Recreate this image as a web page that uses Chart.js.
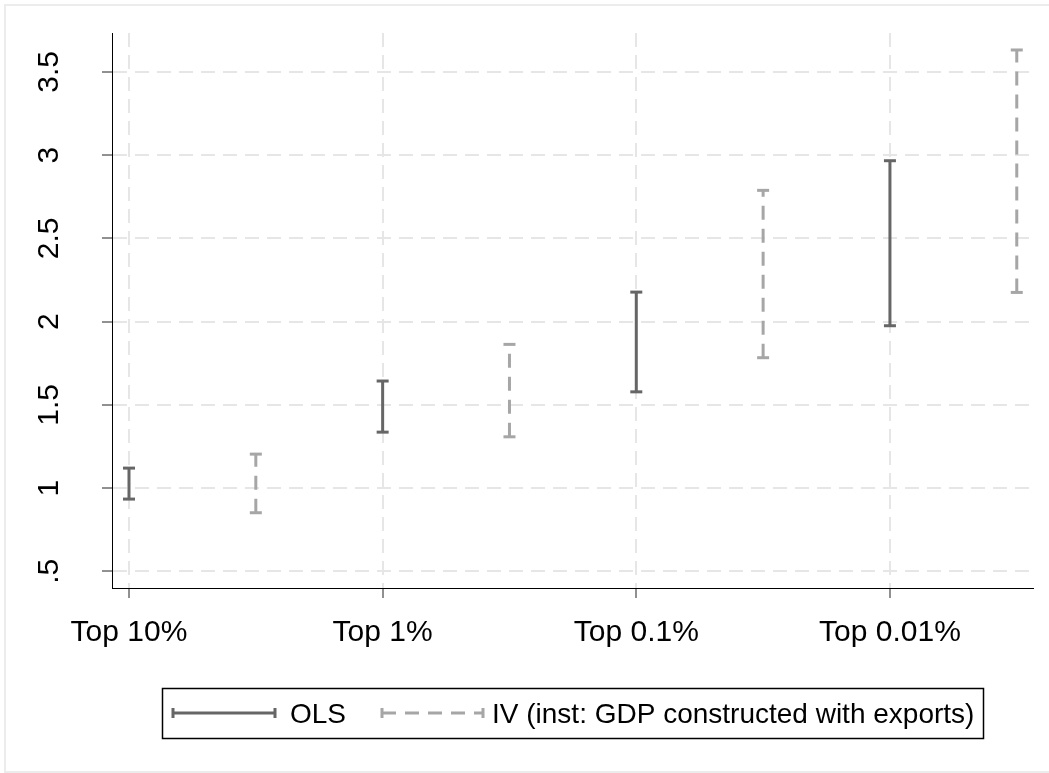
<!DOCTYPE html>
<html>
<head>
<meta charset="utf-8">
<script src="https://cdn.jsdelivr.net/npm/chart.js@4"></script>
<style>
  html, body { margin: 0; padding: 0; background: #fff; }
  canvas { display: block; }
</style>
</head>
<body>
<canvas id="chart" width="1049" height="773"></canvas>
<script>
const categories = ['Top 10%', 'Top 1%', 'Top 0.1%', 'Top 0.01%'];
const olsLow = [0.934, 1.336, 1.578, 1.975];
const olsHigh = [1.120, 1.643, 2.177, 2.966];
const ivLow = [0.852, 1.308, 1.783, 2.175];
const ivHigh = [1.204, 1.863, 2.788, 3.631];
const yTicks = [0.5, 1, 1.5, 2, 2.5, 3, 3.5];
const yTickLabels = ['.5', '1', '1.5', '2', '2.5', '3', '3.5'];
const seriesNames = ['OLS', 'IV (inst: GDP constructed with exports)'];

const FONT = '"Liberation Sans", Arial, sans-serif';
const olsColor = '#666666';
const ivColor = '#a6a6a6';
const gridColor = '#e6e6e6';

// each range becomes lo -> hi, then a null to break the line
function ranges(lo, hi, shift) {
  const pts = [];
  lo.forEach((v, i) => {
    const x = i + 1 + shift;
    pts.push({ x: x, y: v }, { x: x, y: hi[i] }, { x: x, y: null });
  });
  return pts;
}

function legendSymbol(ctx, x1, x2, y, color, dash) {
  ctx.save();
  ctx.strokeStyle = color;
  ctx.lineWidth = 3;
  ctx.setLineDash(dash);
  ctx.beginPath();
  ctx.moveTo(x1, y);
  ctx.lineTo(x2, y);
  ctx.stroke();
  ctx.setLineDash([]);
  ctx.beginPath();
  ctx.moveTo(x1, y - 5); ctx.lineTo(x1, y + 5);
  ctx.moveTo(x2, y - 5); ctx.lineTo(x2, y + 5);
  ctx.stroke();
  ctx.restore();
}

const extras = {
  id: 'extras',
  beforeDraw(chart) {
    const ctx = chart.ctx;
    ctx.save();
    ctx.fillStyle = '#fff';
    ctx.fillRect(0, 0, chart.width, chart.height);
    ctx.strokeStyle = '#ececec';
    ctx.lineWidth = 2;
    ctx.strokeRect(5, 5, chart.width + 10, chart.height - 6);
    ctx.restore();
  },
  afterDraw(chart) {
    const ctx = chart.ctx;
    const ys = chart.scales.y;
    ctx.save();
    ctx.fillStyle = '#000';
    ctx.font = '30px ' + FONT;
    ctx.textAlign = 'center';
    ctx.textBaseline = 'middle';
    yTicks.forEach((v, i) => {
      ctx.save();
      ctx.translate(50, ys.getPixelForValue(v));
      ctx.rotate(-Math.PI / 2);
      ctx.fillText(yTickLabels[i], 0, 0);
      ctx.restore();
    });

    // legend
    ctx.strokeStyle = '#000';
    ctx.lineWidth = 1.5;
    ctx.strokeRect(162.5, 688.5, 821, 50);
    legendSymbol(ctx, 173, 275, 713, olsColor, []);
    legendSymbol(ctx, 382, 483, 713, ivColor, [14, 9]);
    ctx.font = '28px ' + FONT;
    ctx.textAlign = 'left';
    ctx.textBaseline = 'alphabetic';
    ctx.fillText(seriesNames[0], 290, 723);
    ctx.fillText(seriesNames[1], 492, 723);
    ctx.restore();
  }
};

const gridOpts = {
  color: gridColor,
  lineWidth: 2,
  tickLength: 10,
  tickColor: '#222',
  tickWidth: 1,
  tickBorderDash: []
};

new Chart(document.getElementById('chart'), {
  type: 'scatter',
  data: {
    datasets: [
      {
        label: seriesNames[0],
        data: ranges(olsLow, olsHigh, 0),
        showLine: true,
        spanGaps: false,
        borderColor: olsColor,
        borderWidth: 3,
        pointStyle: 'line',
        pointRadius: 6,
        pointBorderWidth: 3,
        pointBorderColor: olsColor,
        pointHoverRadius: 6
      },
      {
        label: seriesNames[1],
        data: ranges(ivLow, ivHigh, 0.5),
        showLine: true,
        spanGaps: false,
        borderColor: ivColor,
        borderWidth: 3,
        borderDash: [14, 9],
        pointStyle: 'line',
        pointRadius: 6,
        pointBorderWidth: 3,
        pointBorderColor: ivColor,
        pointHoverRadius: 6
      }
    ]
  },
  options: {
    responsive: false,
    devicePixelRatio: 1,
    animation: false,
    layout: { padding: { left: 0, right: 16, top: 33, bottom: 0 } },
    plugins: {
      legend: { display: false },
      tooltip: { enabled: false }
    },
    scales: {
      x: {
        type: 'linear',
        min: 0.933,
        max: 4.564,
        afterBuildTicks: s => { s.ticks = categories.map((c, i) => ({ value: i + 1 })); },
        afterFit: s => { s.height = 185; },
        ticks: {
          callback: (v, i) => categories[i],
          font: { family: FONT, size: 30 },
          color: '#000',
          padding: 17,
          maxRotation: 0,
          autoSkip: false
        },
        grid: gridOpts,
        border: { color: '#000', width: 1, dash: [14, 8] }
      },
      y: {
        type: 'linear',
        min: 0.4,
        max: 3.733,
        afterBuildTicks: s => { s.ticks = yTicks.map(v => ({ value: v })); },
        afterFit: s => { s.width = 112; },
        ticks: { display: false },
        grid: gridOpts,
        border: { color: '#000', width: 1, dash: [14, 8] }
      }
    }
  },
  plugins: [extras]
});
</script>
</body>
</html>
